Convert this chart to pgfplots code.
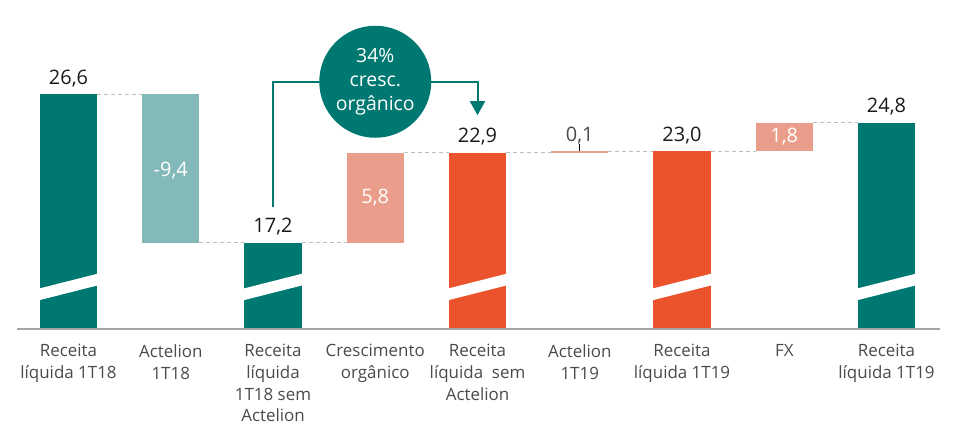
\documentclass[border=0pt]{standalone}
\usepackage{fontspec}
\setmainfont{Open Sans}
\usepackage{pgfplots}
\pgfplotsset{compat=1.18}
\usetikzlibrary{arrows.meta}
\definecolor{tealA}{HTML}{007872}
\definecolor{tealB}{HTML}{83B9B9}
\definecolor{salmon}{HTML}{E99D8A}
\definecolor{orangeA}{HTML}{EB532C}
\definecolor{labcol}{HTML}{4A4A4A}
\definecolor{valcol}{HTML}{1A1A1A}
\definecolor{dashcol}{HTML}{BFBFBF}
\definecolor{axcol}{HTML}{A6A6A6}
\begin{document}
\begin{tikzpicture}
\useasboundingbox (0,0) rectangle (955bp,424bp);
\begin{axis}[
  at={(17bp,95bp)}, anchor=south west, scale only axis,
  width=923bp, height=329bp,
  xmin=-0.5037, xmax=8.523, ymin=11.745, ymax=32.55,
  clip mode=individual,
  axis line style={draw=none},
  ytick=\empty,
  xtick={0,1,2,3,4,5,6,7,8},
  xticklabels={{Receita\\líquida 1T18},{Actelion\\1T18},{Receita\\líquida\\1T18 sem\\Actelion},{Crescimento\\orgânico},{Receita\\líquida\ \ sem\\Actelion},{Actelion\\1T19},{Receita\\líquida 1T19},{FX},{Receita\\líquida 1T19}},
  xtick style={draw=none}, major tick length=0pt,
  xticklabel style={font=\fontsize{17}{21.7}\selectfont, text=labcol, align=center, anchor=north, yshift=-12bp},
]
% totals
\addplot[fill=tealA, draw=none] coordinates {(-0.279,0) (0.279,0) (0.279,26.6) (-0.279,26.6)};
\addplot[fill=tealA, draw=none] coordinates {(1.721,0) (2.279,0) (2.279,17.2) (1.721,17.2)};
\addplot[fill=orangeA, draw=none] coordinates {(3.721,0) (4.279,0) (4.279,22.9) (3.721,22.9)};
\addplot[fill=orangeA, draw=none] coordinates {(5.721,0) (6.279,0) (6.279,23.0) (5.721,23.0)};
\addplot[fill=tealA, draw=none] coordinates {(7.721,0) (8.279,0) (8.279,24.8) (7.721,24.8)};
% floating deltas
\addplot[fill=tealB, draw=none] coordinates {(0.721,17.2) (1.279,17.2) (1.279,26.6) (0.721,26.6)};
\addplot[fill=salmon, draw=none] coordinates {(2.721,17.2) (3.279,17.2) (3.279,22.9) (2.721,22.9)};
\addplot[fill=salmon, draw=none] coordinates {(4.721,22.9) (5.279,22.9) (5.279,23.0) (4.721,23.0)};
\addplot[fill=salmon, draw=none] coordinates {(6.721,23.0) (7.279,23.0) (7.279,24.8) (6.721,24.8)};
% axis breaks
\addplot[fill=white, draw=none] coordinates {(-0.29,13.56) (0.29,14.51) (0.29,15.25) (-0.29,14.30)};
\addplot[fill=white, draw=none] coordinates {(1.71,13.56) (2.29,14.51) (2.29,15.25) (1.71,14.30)};
\addplot[fill=white, draw=none] coordinates {(3.71,13.56) (4.29,14.51) (4.29,15.25) (3.71,14.30)};
\addplot[fill=white, draw=none] coordinates {(5.71,13.56) (6.29,14.51) (6.29,15.25) (5.71,14.30)};
\addplot[fill=white, draw=none] coordinates {(7.71,13.56) (8.29,14.51) (8.29,15.25) (7.71,14.30)};
% connectors
\addplot[dashcol, line width=1bp, dash pattern=on 4bp off 3bp] coordinates {(0.279,26.6) (0.721,26.6)};
\addplot[dashcol, line width=1bp, dash pattern=on 4bp off 3bp] coordinates {(1.279,17.2) (1.721,17.2)};
\addplot[dashcol, line width=1bp, dash pattern=on 4bp off 3bp] coordinates {(2.279,17.2) (2.721,17.2)};
\addplot[dashcol, line width=1bp, dash pattern=on 4bp off 3bp] coordinates {(3.279,22.9) (3.721,22.9)};
\addplot[dashcol, line width=1bp, dash pattern=on 4bp off 3bp] coordinates {(4.279,22.9) (4.721,22.9)};
\addplot[dashcol, line width=1bp, dash pattern=on 4bp off 3bp] coordinates {(5.279,23.0) (5.721,23.0)};
\addplot[dashcol, line width=1bp, dash pattern=on 4bp off 3bp] coordinates {(6.279,23.0) (6.721,23.0)};
\addplot[dashcol, line width=1bp, dash pattern=on 4bp off 3bp] coordinates {(7.279,24.8) (7.721,24.8)};
% baseline
\draw[axcol, line width=2bp] (rel axis cs:0,0) -- (rel axis cs:1,0);
% value labels
\tikzset{val/.style={anchor=base, yshift=10bp, text=valcol, font=\fontsize{20}{24}\selectfont, inner sep=0pt}}
\node[val] at (axis cs:0,26.6) {26,6};
\node[val] at (axis cs:2,17.2) {17,2};
\node[val] at (axis cs:4,22.9) {22,9};
\node[val, text=labcol] at (axis cs:5,23.0) {0,1};
\node[val] at (axis cs:6,23.0) {23,0};
\node[val] at (axis cs:8,24.8) {24,8};
\draw[black, line width=0.8bp] (axis cs:5,23.0) -- (axis cs:5,23.45);
\tikzset{ins/.style={anchor=center, text=white, font=\fontsize{20}{24}\selectfont, inner sep=0pt}}
\node[ins] at (axis cs:1,21.75) {-9,4};
\node[ins] at (axis cs:3,20.05) {5,8};
\node[ins] at (axis cs:7,23.9) {1,8};
% callout
\draw[tealA, line width=2bp] (axis cs:2,19.48) |- (axis cs:3,27.38);
\draw[tealA, line width=2bp, -{Triangle[width=15bp,length=14bp]}] (axis cs:3,27.38) -| (axis cs:4,25.27);
\node[circle, fill=tealA, minimum size=112bp, inner sep=0pt, text=white, align=center, font=\fontsize{19.5}{24}\selectfont] at (axis cs:3,27.38) {34\%\\cresc.\\orgânico};
\end{axis}
\end{tikzpicture}
\end{document}
